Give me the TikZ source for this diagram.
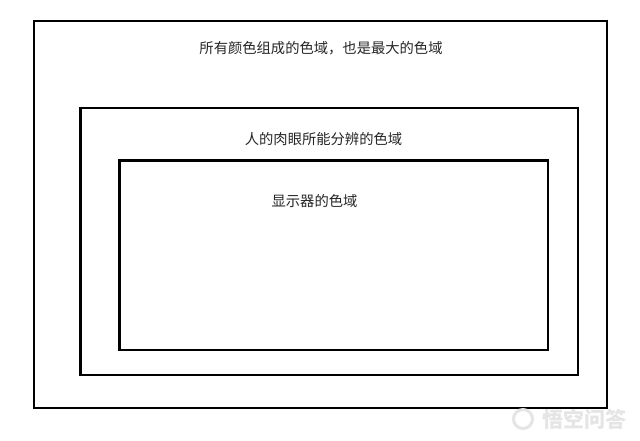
\documentclass[tikz,border=0pt]{standalone}
\usepackage{fontspec}
\newfontfamily\cjk{Noto Sans CJK SC}
\begin{document}
\begin{tikzpicture}[x=1pt,y=-1pt,
  gamut/.style={draw=black,line width=2.6pt},
  lbl/.style={font=\cjk\fontsize{14.3}{16}\selectfont,inner sep=0pt,text=black!85},
  wm/.style={font=\cjk\bfseries\fontsize{21}{23}\selectfont,inner sep=0pt,text=black!10},
  wmlogo/.style={draw=black!10,line width=3pt}]
\useasboundingbox (0,0) rectangle (640,440);
\fill[white] (0,0) rectangle (640,440);
\node[gamut,minimum width=573pt,minimum height=387pt,inner sep=0pt] (all) at (320.5,214.5) {};
\node[gamut,minimum width=497.5pt,minimum height=267pt,inner sep=0pt] (eye) at (329.25,241.5) {};
\node[gamut,minimum width=428.5pt,minimum height=189.5pt,inner sep=0pt] (disp) at (333.75,255.25) {};
\node[lbl] (tall) at (321,48) {所有颜色组成的色域，也是最大的色域};
\node[lbl] (teye) at (323.5,139) {人的肉眼所能分辨的色域};
\node[lbl] (tdisp) at (314.5,201) {显示器的色域};
\node[wmlogo,circle,minimum size=19pt,inner sep=0pt] (logo) at (523,419) {};
\node[wm] (mark) at (584,419) {悟空问答};
\end{tikzpicture}
\end{document}
